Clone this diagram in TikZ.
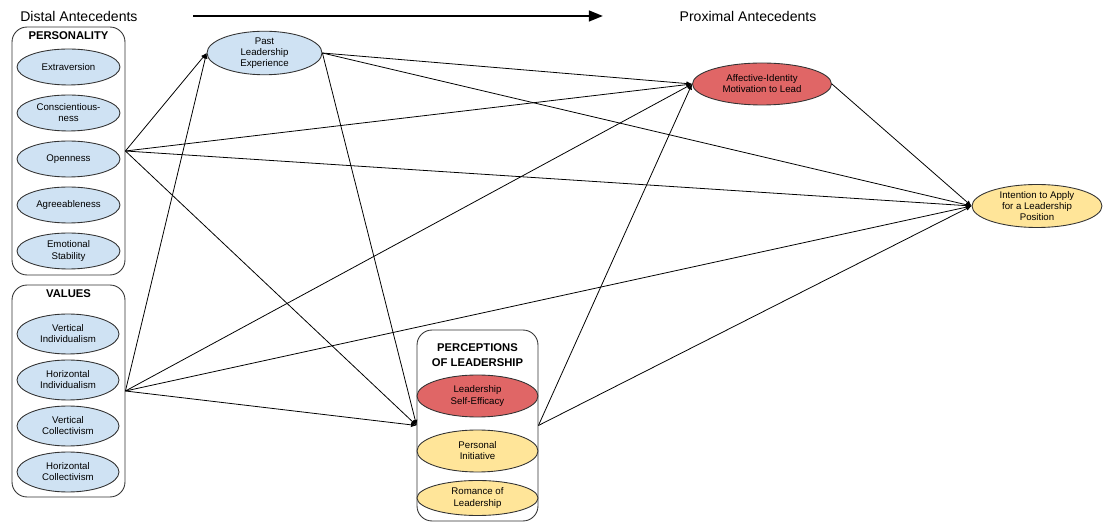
\documentclass[tikz,border=0pt]{standalone}
\usepackage{fontspec}
\setmainfont{Liberation Sans}
\usetikzlibrary{shapes.geometric,arrows.meta}
\definecolor{traitblue}{HTML}{CFE2F3}
\definecolor{motivred}{HTML}{E06666}
\definecolor{intentyellow}{HTML}{FFE599}
\definecolor{edgegray}{HTML}{333333}

\begin{document}
\begin{tikzpicture}[x=0.02cm,y=-0.02cm,
  oval/.style={ellipse, draw=edgegray, line width=0.5pt, inner sep=0pt, align=center,
    font=\fontsize{5.5}{6.3}\selectfont},
  trait/.style={oval, fill=traitblue, minimum width=2.06cm, minimum height=0.72cm},
  valueoval/.style={oval, fill=traitblue, minimum width=2.04cm, minimum height=0.80cm},
  redoval/.style={oval, fill=motivred},
  yellowoval/.style={oval, fill=intentyellow},
  groupbox/.style={rectangle, rounded corners=0.3cm, draw=edgegray, line width=0.5pt, inner sep=0pt},
  grouptitle/.style={align=center, inner sep=0pt, font=\bfseries\fontsize{6.4}{8.5}\selectfont},
  header/.style={inner sep=0pt, font=\fontsize{8}{9.6}\selectfont},
  link/.style={draw=black, line width=0.45pt, -{Latex[length=3.2pt,width=2.6pt]}},
  timeline/.style={draw=black, line width=1.4pt, -{Triangle[length=8pt,width=6pt]}}
]
\path[use as bounding box] (0,0) rectangle (1110,523);

% header: distal to proximal
\node[header, anchor=west] (distal) at (20,16) {Distal Antecedents};
\node[header] (proximal) at (748,16) {Proximal Antecedents};
\coordinate (timeA) at (193,16);
\coordinate (timeB) at (603,16);
\draw[timeline] (timeA) -- (timeB);

% personality group
\node[groupbox, minimum width=2.26cm, minimum height=4.96cm] (pers) at (68.5,151) {};
\node[grouptitle] (persT) at (68.5,36) {PERSONALITY};
\node[trait] (extra) at (68.5,67) {Extraversion};
\node[trait] (consc) at (68.5,113) {Conscientious-\\ness};
\node[trait] (open) at (68.5,159) {Openness};
\node[trait] (agree) at (68.5,205) {Agreeableness};
\node[trait] (emot) at (68.5,251) {Emotional\\Stability};

% values group
\node[groupbox, minimum width=2.26cm, minimum height=4.24cm] (vals) at (68.5,391) {};
\node[grouptitle] (valsT) at (68.5,294) {VALUES};
\node[valueoval] (vind) at (68,334) {Vertical\\Individualism};
\node[valueoval] (hind) at (68,380) {Horizontal\\Individualism};
\node[valueoval] (vcol) at (68,426) {Vertical\\Collectivism};
\node[valueoval] (hcol) at (68,472) {Horizontal\\Collectivism};

% past experience
\node[oval, fill=traitblue, minimum width=2.30cm, minimum height=0.80cm] (past) at (264.5,53)
  {Past\\Leadership\\Experience};

% perceptions of leadership group
\node[groupbox, minimum width=2.42cm, minimum height=3.82cm] (perc) at (477.5,425.5) {};
\node[grouptitle] (percT) at (477.5,355) {PERCEPTIONS\\OF LEADERSHIP};
\node[redoval, minimum width=2.42cm, minimum height=0.84cm] (lse) at (477.5,396) {Leadership\\Self-Efficacy};
\node[yellowoval, minimum width=2.42cm, minimum height=0.84cm] (pinit) at (477.5,451) {Personal\\Initiative};
\node[yellowoval, minimum width=2.42cm, minimum height=0.70cm] (roman) at (477.5,498) {Romance of\\Leadership};

% proximal antecedent and outcome
\node[redoval, minimum width=2.78cm, minimum height=0.84cm] (affect) at (762,84)
  {Affective-Identity\\Motivation to Lead};
\node[yellowoval, minimum width=2.60cm, minimum height=0.86cm] (intent) at (1037,206)
  {Intention to Apply\\for a Leadership\\Position};

% paths
\foreach \src in {pers,vals}{
  \draw[link] (\src.east) -- (past.west);
  \draw[link] (\src.east) -- (affect.west);
  \draw[link] (\src.east) -- (intent.west);
  \draw[link] (\src.east) -- (perc.west);
}
\draw[link] (past.east) -- (affect.west);
\draw[link] (past.east) -- (intent.west);
\draw[link] (past.east) -- (perc.west);
\draw[link] (perc.east) -- (affect.west);
\draw[link] (perc.east) -- (intent.west);
\draw[link] (affect.east) -- (intent.west);
\end{tikzpicture}
\end{document}
